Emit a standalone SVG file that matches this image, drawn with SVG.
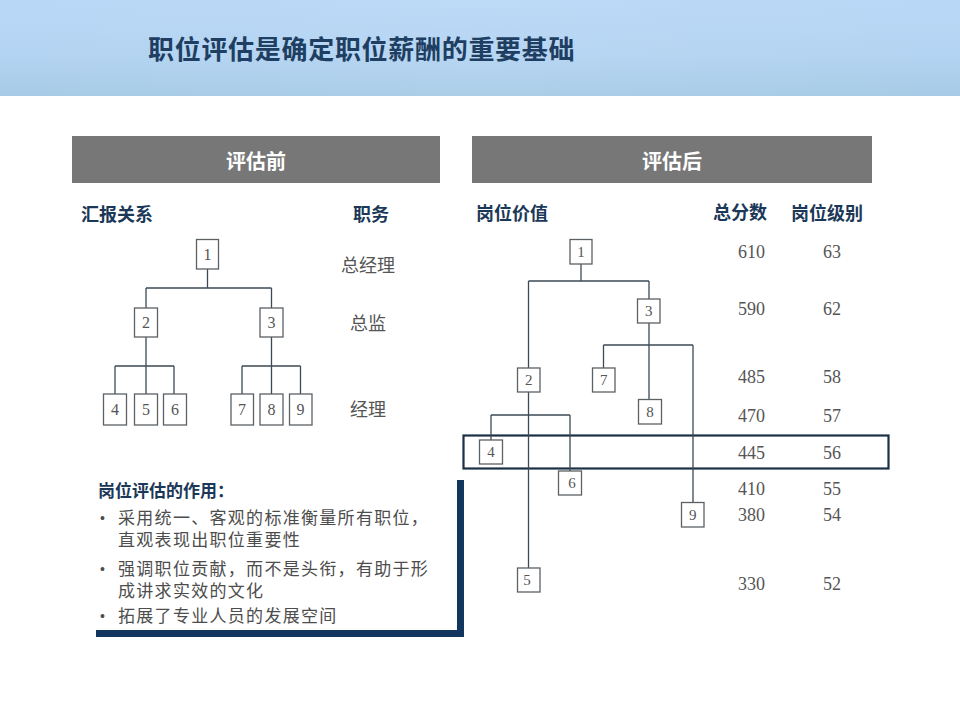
<svg xmlns="http://www.w3.org/2000/svg" width="960" height="720" viewBox="0 0 960 720">
<defs>
<linearGradient id="hdr" x1="0" y1="0" x2="0" y2="1">
<stop offset="0" stop-color="#b9d8f7"/>
<stop offset="0.6" stop-color="#b2d3f1"/>
<stop offset="1" stop-color="#a7cbe6"/>
</linearGradient>
<linearGradient id="hdrh" x1="0" y1="0" x2="1" y2="0">
<stop offset="0" stop-color="#ffffff" stop-opacity="0"/>
<stop offset="0.5" stop-color="#ffffff" stop-opacity="0.06"/>
<stop offset="1" stop-color="#ffffff" stop-opacity="0"/>
</linearGradient>
</defs>
<style>
.cjk{font-family:"Noto Sans CJK SC","Noto Sans",sans-serif}
.title{font-size:26px;font-weight:bold;fill:#1e3e62;letter-spacing:0.7px}
.bar{fill:#777777}
.barT{font-size:20px;font-weight:bold;fill:#ffffff}
.head{font-size:18px;font-weight:bold;fill:#1b3858}
.role{font-size:18px;fill:#555555}
.num{font-family:"Liberation Serif",serif;font-size:18px;fill:#555555}
.box rect{fill:#ffffff;stroke:#5c6166;stroke-width:1.3}
.box text{font-family:"Liberation Serif",serif;font-size:15px;fill:#555555;text-anchor:middle}
.lbox text{font-size:16px}
.conn path{fill:none;stroke:#3d4a55;stroke-width:1.3}
.body{font-family:"Liberation Sans","Noto Sans CJK SC",sans-serif;font-size:17px;fill:#4d4d4d;letter-spacing:1.3px}
.bul{font-family:"Liberation Sans",sans-serif;font-size:14px;fill:#4d4d4d}
.bh{font-size:17px;font-weight:bold;fill:#1b3858}
.shadow{fill:#12365e}
</style>

<!-- header -->
<rect x="0" y="0" width="960" height="96" fill="url(#hdr)"/>
<rect x="0" y="0" width="960" height="96" fill="url(#hdrh)"/>
<text class="cjk title" x="148" y="47" dominant-baseline="central">职位评估是确定职位薪酬的重要基础</text>

<!-- section bars -->
<g id="bar-before">
<rect class="bar" x="72" y="136" width="368" height="47"/>
<text class="cjk barT" x="256" y="160" text-anchor="middle" dominant-baseline="central">评估前</text>
</g>
<g id="bar-after">
<rect class="bar" x="472" y="136" width="400" height="47"/>
<text class="cjk barT" x="672" y="160" text-anchor="middle" dominant-baseline="central">评估后</text>
</g>

<!-- column headings -->
<text class="cjk head" x="81" y="212.5" dominant-baseline="central">汇报关系</text>
<text class="cjk head" x="353" y="212.5" dominant-baseline="central">职务</text>
<text class="cjk head" x="476" y="212" dominant-baseline="central">岗位价值</text>
<text class="cjk head" x="713" y="211" dominant-baseline="central">总分数</text>
<text class="cjk head" x="791" y="212" dominant-baseline="central">岗位级别</text>

<!-- roles -->
<text class="cjk role" x="341" y="264" dominant-baseline="central">总经理</text>
<text class="cjk role" x="350" y="322" dominant-baseline="central">总监</text>
<text class="cjk role" x="350" y="408" dominant-baseline="central">经理</text>

<!-- left connectors -->
<g id="connectors-before" class="conn">
<path d="M207.5 269V288M146 288H271.5M146 288V308M271.5 288V308"/>
<path d="M146 337V394M115 366H174M115 366V394M174 366V394"/>
<path d="M271.5 337V394M242 366H300.5M242 366V394M300.5 366V394"/>
</g>

<!-- left nodes -->
<g id="L1" class="box lbox"><rect x="196.5" y="239.5" width="22" height="29.5"/><text x="207.5" y="259.5">1</text></g>
<g id="L2" class="box lbox"><rect x="134.5" y="308" width="23" height="29"/><text x="146" y="328">2</text></g>
<g id="L3" class="box lbox"><rect x="260" y="308" width="23" height="29"/><text x="271.5" y="328">3</text></g>
<g id="L4" class="box lbox"><rect x="103.5" y="394" width="23" height="31"/><text x="115" y="415">4</text></g>
<g id="L5" class="box lbox"><rect x="134.5" y="394" width="23" height="31"/><text x="146" y="415">5</text></g>
<g id="L6" class="box lbox"><rect x="163.5" y="394" width="23" height="31"/><text x="175" y="415">6</text></g>
<g id="L7" class="box lbox"><rect x="231" y="394" width="22.5" height="31"/><text x="242" y="415">7</text></g>
<g id="L8" class="box lbox"><rect x="260" y="394" width="23" height="31"/><text x="271.5" y="415">8</text></g>
<g id="L9" class="box lbox"><rect x="289.5" y="394" width="22.5" height="31"/><text x="300.5" y="415">9</text></g>

<!-- highlight row -->
<rect id="highlight" x="463.5" y="435.5" width="425" height="33" fill="none" stroke="#1b2f45" stroke-width="2.2"/>

<!-- right connectors -->
<g id="connectors-after" class="conn">
<path d="M581 264V281M528.5 281H649M649 281V299M528.5 281V368"/>
<path d="M649 323V399.5M603.5 345H693M603.5 345V368M693 345V502.5"/>
<path d="M528.5 392V568M491 415H570M491 415V440M570 415V471"/>
</g>

<!-- right nodes -->
<g id="R1" class="box"><rect x="570" y="239.5" width="22" height="24.5"/><text x="581" y="257">1</text></g>
<g id="R3" class="box"><rect x="637.5" y="299" width="22.5" height="24"/><text x="648.7" y="316">3</text></g>
<g id="R2" class="box"><rect x="517.5" y="368" width="22.5" height="24"/><text x="528.7" y="385">2</text></g>
<g id="R7" class="box"><rect x="592.5" y="368" width="22.5" height="24"/><text x="603.7" y="385">7</text></g>
<g id="R8" class="box"><rect x="638.5" y="399.5" width="23" height="24.5"/><text x="650" y="417">8</text></g>
<g id="R4" class="box"><rect x="479.5" y="440" width="23" height="24"/><text x="491" y="457">4</text></g>
<g id="R6" class="box"><rect x="558.5" y="471" width="23" height="24"/><text x="572" y="488">6</text></g>
<g id="R9" class="box"><rect x="681.5" y="502.5" width="22.5" height="24.5"/><text x="692.7" y="520">9</text></g>
<g id="R5" class="box"><rect x="517.5" y="568" width="22.5" height="24"/><text x="527" y="585">5</text></g>

<!-- scores and levels -->
<g id="scores" class="num" text-anchor="middle">
<text x="751.5" y="258">610</text><text x="832" y="258">63</text>
<text x="751.5" y="314.5">590</text><text x="832" y="314.5">62</text>
<text x="751.5" y="383">485</text><text x="832" y="383">58</text>
<text x="751.5" y="422">470</text><text x="832" y="422">57</text>
<text x="751.5" y="459">445</text><text x="832" y="459">56</text>
<text x="751.5" y="494.5">410</text><text x="832" y="494.5">55</text>
<text x="751.5" y="520.5">380</text><text x="832" y="520.5">54</text>
<text x="751.5" y="589.5">330</text><text x="832" y="589.5">52</text>
</g>

<!-- bottom note box -->
<g id="note">
<rect class="shadow" x="457" y="480" width="7" height="157"/>
<rect class="shadow" x="96" y="630" width="368" height="7"/>
<text class="cjk bh" x="98" y="489" dominant-baseline="central">岗位评估的作用：</text>
<text class="bul" x="100" y="523">•</text>
<text class="bul" x="100" y="574">•</text>
<text class="bul" x="100" y="620.5">•</text>
<g class="body">
<text x="118" y="524">采用统一、客观的标准衡量所有职位，</text>
<text x="118" y="546">直观表现出职位重要性</text>
<text x="118" y="575">强调职位贡献，而不是头衔，有助于形</text>
<text x="118" y="597">成讲求实效的文化</text>
<text x="118" y="621.5">拓展了专业人员的发展空间</text>
</g>
</g>
</svg>
